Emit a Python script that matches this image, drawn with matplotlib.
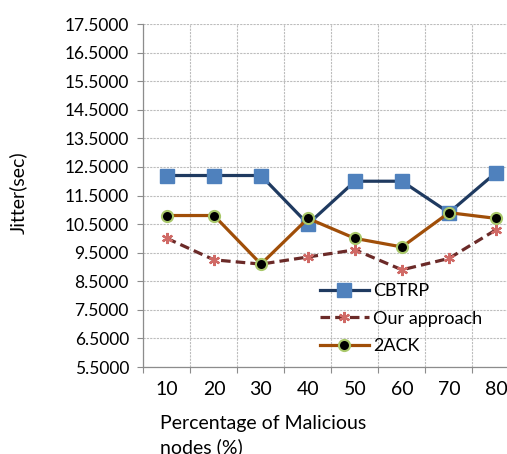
import matplotlib
matplotlib.use("Agg")
import matplotlib.pyplot as plt
import numpy as np
from matplotlib.ticker import FixedLocator, FormatStrFormatter

plt.rcParams['font.family'] = ['Lato', 'DejaVu Sans']

categories = ["10", "20", "30", "40", "50", "60", "70", "80"]
cbtrp = [12.2, 12.2, 12.2, 10.5, 12.0, 12.0, 10.9, 12.3]
our_approach = [10.0, 9.25, 9.1, 9.35, 9.6, 8.9, 9.3, 10.3]
two_ack = [10.8, 10.8, 9.1, 10.7, 10.0, 9.7, 10.9, 10.7]
y_ticks = [5.5 + i for i in range(13)]

fig = plt.figure(figsize=(5.07, 4.54), dpi=100)
ax = fig.add_axes([0.283, 0.1916, 0.7416, 0.7555])

x = np.arange(len(categories))

ax.plot(x, cbtrp, color="#1F3A60", lw=2.3, marker="s", ms=9.5,
        mfc="#4F81BD", mec="#4F81BD", label="CBTRP", zorder=3)
ax.plot(x, our_approach, color="#6B2A28", lw=2.3, ls=(0, (3, 1.6)),
        marker=(6, 2, 0), ms=8, mec="#D06A66", mew=1.6,
        label="Our approach", zorder=3)
ax.plot(x, two_ack, color="#A04E08", lw=2.3, marker="o", ms=8,
        mfc="black", mec="#A9C86A", mew=1.5, label="2ACK", zorder=4)

ax.set_xlim(-0.5, len(categories) - 0.5)
ax.set_ylim(5.5, 17.5)

ax.yaxis.set_major_locator(FixedLocator(y_ticks))
ax.yaxis.set_major_formatter(FormatStrFormatter("%.4f"))
ax.set_xticks(x)
ax.set_xticklabels(categories)
ax.set_xticks(np.arange(len(categories) + 1) - 0.5, minor=True)

ax.tick_params(axis="x", which="major", length=0, pad=10, labelsize=14,
               colors="black")
ax.tick_params(axis="x", which="minor", length=4.5, width=0.8, color="#8C8C8C")
ax.tick_params(axis="y", which="major", length=4.5, width=0.8, color="#8C8C8C",
               labelsize=12.5, pad=6)

ax.grid(axis="y", which="major", color="#BDBDBD", ls=(0, (2, 1)), lw=0.8)
ax.grid(axis="x", which="minor", color="#BDBDBD", ls=(0, (2, 1)), lw=0.8)
ax.set_axisbelow(True)

for side in ("top", "right"):
    ax.spines[side].set_visible(False)
for side in ("left", "bottom"):
    ax.spines[side].set_color("#8C8C8C")
    ax.spines[side].set_linewidth(0.9)

fig.text(0.036, 0.575, "Jitter(sec)", rotation=90, ha="center", va="center",
         fontsize=14)
fig.text(0.315, 0.087, "Percentage of Malicious\nnodes (%)", ha="left",
         va="top", fontsize=14, linespacing=1.45)

leg = ax.legend(loc="upper left", bbox_to_anchor=(0.45, 0.266),
                frameon=False, fontsize=13, handlelength=2.7,
                handletextpad=0.25, labelspacing=0.65, borderaxespad=0)

fig.savefig("out.png", dpi=100)
